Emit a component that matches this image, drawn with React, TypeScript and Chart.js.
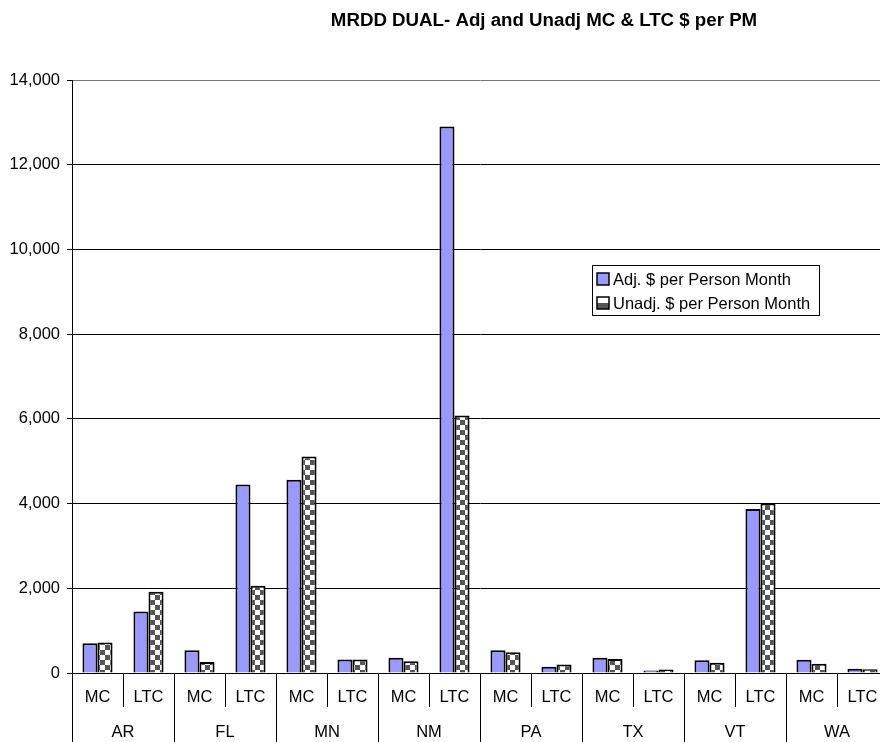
import React, { useEffect, useRef } from "react";
import { Chart, registerables } from "chart.js";

Chart.register(...registerables);

const chartTitle = "MRDD DUAL- Adj and Unadj MC & LTC $ per PM";
const states = ["AR", "FL", "MN", "NM", "PA", "TX", "VT", "WA"];
const programs = ["MC", "LTC"];
const seriesNames = ["Adj. $ per Person Month", "Unadj. $ per Person Month"];
// one value per state/program pair, in the order AR-MC, AR-LTC, FL-MC, ...
const adjPerPM = [700, 1450, 540, 4450, 4560, 320, 360, 12900, 540, 150, 360, 60, 300, 3870, 310, 100];
const unadjPerPM = [720, 1920, 260, 2060, 5110, 320, 280, 6080, 490, 200, 330, 80, 240, 4000, 220, 90];
const yTicks = [0, 2000, 4000, 6000, 8000, 10000, 12000, 14000];

const FONT = '"Liberation Sans", Arial, sans-serif';
const ADJ_COLOR = "#9999FF";
const CHECK_DARK = "#555555";

function makeCheckerPattern(ctx: CanvasRenderingContext2D): CanvasPattern | string {
  const tile = document.createElement("canvas");
  tile.width = 10;
  tile.height = 10;
  const t = tile.getContext("2d");
  if (!t) return CHECK_DARK;
  t.fillStyle = "#ffffff";
  t.fillRect(0, 0, 10, 10);
  t.fillStyle = CHECK_DARK;
  t.fillRect(0, 0, 5, 5);
  t.fillRect(5, 5, 5, 5);
  return ctx.createPattern(tile, "repeat") || CHECK_DARK;
}

const crisp = (v: number) => Math.round(v) + 0.5;

// Title, two-level category axis and boxed legend inside the plot.
const decorations = {
  id: "decorations",
  afterDraw(chart: any) {
    const ctx: CanvasRenderingContext2D = chart.ctx;
    const area = chart.chartArea;
    const xs = chart.scales.x;
    const labels: string[] = chart.data.labels;
    const n = labels.length;
    const step = (xs.right - xs.left) / n;
    const H = chart.height;

    ctx.save();
    // title
    ctx.fillStyle = "#000";
    ctx.font = `bold 18.7px ${FONT}`;
    ctx.textAlign = "center";
    ctx.textBaseline = "middle";
    ctx.fillText(chartTitle, 544, 21);

    // category separators
    ctx.strokeStyle = "#000";
    ctx.lineWidth = 1;
    for (let i = 0; i <= n; i++) {
      const bx = crisp(xs.getPixelForValue(Math.min(i, n - 1)) + (i === n ? step / 2 : -step / 2));
      const isGroup = i % programs.length === 0;
      ctx.beginPath();
      ctx.moveTo(bx, area.bottom);
      ctx.lineTo(bx, isGroup ? H : area.bottom + 34);
      ctx.stroke();
    }

    // program labels
    ctx.font = `16.5px ${FONT}`;
    ctx.fillStyle = "#000";
    for (let i = 0; i < n; i++) {
      ctx.fillText(labels[i], xs.getPixelForValue(i), area.bottom + 24);
    }
    // state labels
    for (let g = 0; g < states.length; g++) {
      const a = xs.getPixelForValue(g * programs.length);
      const b = xs.getPixelForValue(g * programs.length + programs.length - 1);
      ctx.fillText(states[g], (a + b) / 2, area.bottom + 59);
    }

    // legend
    const lx = 592, ly = 265, lw = 227, lh = 50;
    ctx.fillStyle = "#fff";
    ctx.fillRect(lx, ly, lw, lh);
    ctx.strokeStyle = "#000";
    ctx.strokeRect(lx + 0.5, ly + 0.5, lw, lh);
    ctx.textAlign = "left";
    chart.data.datasets.forEach((ds: any, k: number) => {
      const cy = ly + 14 + k * 24;
      const sx = 597, sy = cy - 6, ss = 12;
      if (k === 0) {
        ctx.fillStyle = ADJ_COLOR;
        ctx.fillRect(sx, sy, ss, ss);
      } else {
        ctx.fillStyle = "#fff";
        ctx.fillRect(sx, sy, ss, ss / 2);
        ctx.fillStyle = CHECK_DARK;
        ctx.fillRect(sx, sy + ss / 2, ss, ss / 2);
      }
      ctx.strokeStyle = "#000";
      ctx.lineWidth = 1.5;
      ctx.strokeRect(sx, sy, ss, ss);
      ctx.lineWidth = 1;
      ctx.fillStyle = "#000";
      ctx.fillText(ds.label, 613, cy + 1);
    });
    ctx.restore();
  },
};

export default function App() {
  const canvasRef = useRef<HTMLCanvasElement | null>(null);

  useEffect(() => {
    const canvas = canvasRef.current;
    if (!canvas) return;
    const ctx = canvas.getContext("2d");
    if (!ctx) return;

    const labels = states.flatMap(() => programs);

    const chart = new Chart(ctx, {
      type: "bar",
      data: {
        labels,
        datasets: [
          {
            label: seriesNames[0],
            data: adjPerPM,
            backgroundColor: ADJ_COLOR,
            borderColor: "#000",
            borderWidth: 2,
          },
          {
            label: seriesNames[1],
            data: unadjPerPM,
            backgroundColor: makeCheckerPattern(ctx),
            borderColor: "#000",
            borderWidth: 2,
          },
        ],
      },
      options: {
        responsive: false,
        animation: false,
        devicePixelRatio: 1,
        layout: { padding: { top: 80, right: 12, left: 0, bottom: 0 } },
        datasets: {
          bar: { categoryPercentage: 0.59, barPercentage: 1.0 },
        },
        plugins: {
          legend: { display: false },
          title: { display: false },
          tooltip: { enabled: false },
        },
        scales: {
          x: {
            type: "category",
            offset: true,
            grid: { display: false },
            border: { display: true, color: "#000", width: 1 },
            ticks: { display: false },
            afterFit: (scale: any) => {
              scale.height = 69;
            },
          },
          y: {
            min: 0,
            max: 14000,
            afterBuildTicks: (scale: any) => {
              scale.ticks = yTicks.map((v) => ({ value: v }));
            },
            ticks: {
              color: "#000",
              font: { family: FONT, size: 16.5 },
              padding: 7,
              callback: (v: any) => Number(v).toLocaleString("en-US"),
            },
            grid: {
              color: (c: any) => (c.tick && c.tick.value === 14000 ? "#777" : "#000"),
              lineWidth: 1,
              tickLength: 5,
              tickColor: "#000",
            },
            border: { display: true, color: "#000", width: 1 },
            afterFit: (scale: any) => {
              scale.width = 72;
            },
          },
        },
      },
      plugins: [decorations],
    });

    return () => chart.destroy();
  }, []);

  return (
    <div style={{ position: "absolute", left: 0, top: 0, width: 880, height: 742, overflow: "hidden", background: "#fff" }}>
      <canvas ref={canvasRef} width={900} height={742} style={{ display: "block" }} />
    </div>
  );
}
